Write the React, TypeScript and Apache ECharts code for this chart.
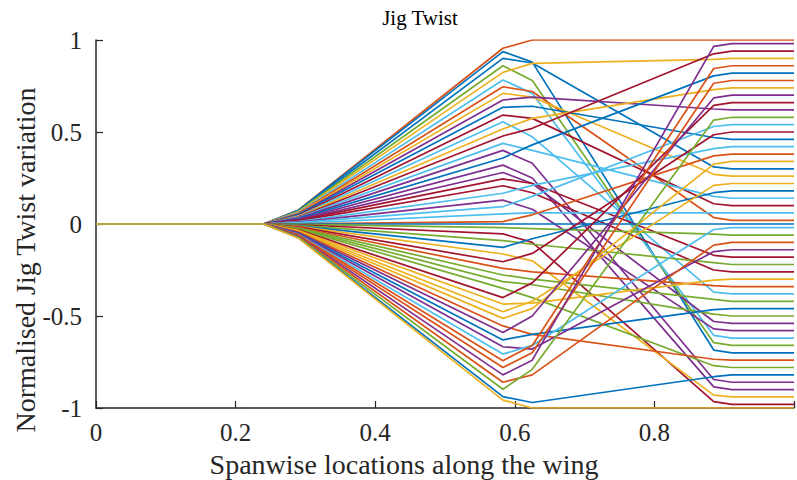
import React, { useEffect, useRef } from "react";
import * as echarts from "echarts";

// Spanwise stations (fraction of span) where the twist variation is defined
const stations = [0, 0.24, 0.29, 0.583, 0.625, 0.885, 0.911, 1.0];

// MATLAB default line colour order
const palette = ["#0072BD", "#D95319", "#EDB120", "#7E2F8E", "#77AC30", "#4DBEEE", "#A2142F"];

// Colour index of each sample
const lineColour = [
  1, 0, 0, 4, 2, 5, 1, 2, 3, 0, 6, 5, 2, 6, 5, 3, 0, 3, 3, 6, 6, 5, 3, 5, 5, 1, 0,
  4, 6, 4, 0, 2, 6, 1, 4, 4, 4, 6, 2, 2, 2, 1, 3, 0, 3, 5, 1, 1, 3, 1, 4, 0, 2,
];

// Twist variation at the inboard kink (0.29)
const inboardKink = [
  0.076, 0.075, 0.072, 0.069, 0.066, 0.063, 0.06, 0.057, 0.054, 0.051, 0.047, 0.044, 0.041, 0.038,
  0.035, 0.032, 0.029, 0.026, 0.022, 0.02, 0.017, 0.013, 0.01, 0.008, 0.004, 0.001, 0, -0.002,
  -0.004, -0.007, -0.01, -0.013, -0.016, -0.019, -0.022, -0.025, -0.028, -0.032, -0.035, -0.038,
  -0.041, -0.044, -0.047, -0.05, -0.053, -0.057, -0.059, -0.062, -0.066, -0.069, -0.072, -0.075,
  -0.077,
];

// Twist variation at the mid-span station (0.583)
const midSpan = [
  0.955, 0.937, 0.9, 0.86, 0.824, 0.783, 0.746, 0.71, 0.674, 0.634, 0.592, 0.556, 0.516, 0.478,
  0.438, 0.4, 0.359, 0.32, 0.28, 0.245, 0.208, 0.167, 0.13, 0.094, 0.055, 0.013, 0, -0.02, -0.054,
  -0.09, -0.127, -0.163, -0.205, -0.241, -0.277, -0.313, -0.35, -0.4, -0.435, -0.477, -0.513,
  -0.554, -0.59, -0.63, -0.667, -0.707, -0.743, -0.78, -0.82, -0.86, -0.898, -0.938, -0.957,
];

// Twist variation just outboard of mid-span (0.625)
const midSpanOuter = [
  1.0, 0.88, 0.875, 0.78, 0.873, 0.71, 0.72, 0.69, 0.69, 0.64, 0.574, 0.474, 0.574, 0.52, 0.4,
  0.33, 0.43, 0.25, 0.22, 0.22, 0.17, 0.21, 0.08, 0.15, 0.06, 0.05, 0, -0.025, -0.1, -0.11, -0.08,
  -0.2, -0.16, -0.26, -0.3, -0.33, -0.4, -0.32, -0.43, -0.42, -0.46, -0.6, -0.5, -0.6, -0.68,
  -0.66, -0.66, -0.7, -0.74, -0.82, -0.79, -0.97, -1.0,
];

// Twist variation at the outboard kink (0.885)
const outboardKink = [
  1.0, -0.685, 0.31, -0.645, 0.895, -0.605, 0.035, 0.27, 0.625, 0.47, 0.11, -0.37, 0.73, 0.925,
  0.15, -0.845, 0.805, -0.885, -0.53, -0.17, -0.25, 0.41, -0.57, 0.53, 0.06, 0.37, 0, -0.055,
  -0.965, -0.21, 0.17, -0.93, 0.485, -0.335, -0.41, -0.49, -0.77, 0.645, -0.305, 0.21, 0.325,
  -0.735, 0.685, -0.465, -0.15, -0.03, 0.845, 0.765, 0.965, -0.115, 0.565, -0.83, -1.0,
];

// Twist variation from 0.911 to the tip
const tipValue = [
  1.0, -0.7, 0.3, -0.66, 0.9, -0.62, 0.02, 0.26, 0.62, 0.46, 0.1, -0.38, 0.74, 0.94, 0.14, -0.86,
  0.82, -0.9, -0.54, -0.18, -0.26, 0.42, -0.58, 0.54, 0.06, 0.38, 0, -0.06, -0.98, -0.22, 0.18,
  -0.94, 0.5, -0.34, -0.42, -0.5, -0.78, 0.66, -0.3, 0.22, 0.34, -0.74, 0.7, -0.46, -0.14, -0.02,
  0.86, 0.78, 0.98, -0.1, 0.58, -0.82, -1.0,
];

const xTicks = [0, 0.2, 0.4, 0.6, 0.8];

const FONT = "'Liberation Serif', 'Times New Roman', serif";
const INK = "#262626";

export default function App() {
  const ref = useRef<HTMLDivElement | null>(null);

  useEffect(() => {
    document.body.style.margin = "0";
    if (!ref.current) return;
    const chart = echarts.init(ref.current, undefined, { renderer: "svg" });

    const series = lineColour.map((c, i) => {
      const vals = [
        0,
        0,
        inboardKink[i],
        midSpan[i],
        midSpanOuter[i],
        outboardKink[i],
        tipValue[i],
        tipValue[i],
      ];
      return {
        type: "line",
        data: stations.map((x, k) => [x, vals[k]]),
        showSymbol: false,
        symbol: "none",
        silent: true,
        lineStyle: { color: palette[c], width: 1.7 },
        itemStyle: { color: palette[c] },
      };
    });

    chart.setOption({
      animation: false,
      backgroundColor: "#ffffff",
      grid: { left: 96, top: 40, width: 707, height: 368, containLabel: false },
      xAxis: {
        type: "value",
        min: 0,
        max: 1,
        interval: 0.2,
        axisLine: { show: true, onZero: false, lineStyle: { color: INK, width: 1.5 } },
        axisTick: { show: true, inside: true, length: 7, lineStyle: { color: INK, width: 1.2 } },
        splitLine: { show: false },
        axisLabel: {
          fontFamily: FONT,
          fontSize: 25,
          color: INK,
          margin: 12,
          formatter: (v: number) =>
            xTicks.some((t) => Math.abs(t - v) < 1e-9) ? String(Math.round(v * 10) / 10) : "",
        },
      },
      yAxis: {
        type: "value",
        min: -1,
        max: 1,
        interval: 0.5,
        axisLine: { show: true, onZero: false, lineStyle: { color: INK, width: 1.5 } },
        axisTick: { show: true, inside: true, length: 7, lineStyle: { color: INK, width: 1.2 } },
        splitLine: { show: false },
        axisLabel: {
          fontFamily: FONT,
          fontSize: 25,
          color: INK,
          margin: 14,
          formatter: (v: number) => String(v),
        },
      },
      graphic: [
        {
          type: "text",
          x: 420,
          y: 18,
          style: {
            text: "Jig Twist",
            font: `21px ${FONT}`,
            fill: "#000000",
            textAlign: "center",
            textVerticalAlign: "middle",
          },
        },
        {
          type: "text",
          x: 404,
          y: 464,
          style: {
            text: "Spanwise locations along the wing",
            font: `28px ${FONT}`,
            fill: INK,
            textAlign: "center",
            textVerticalAlign: "middle",
          },
        },
        {
          type: "text",
          x: 25,
          y: 260,
          rotation: Math.PI / 2,
          style: {
            text: "Normalised Jig Twist variation",
            font: `28px ${FONT}`,
            fill: INK,
            textAlign: "center",
            textVerticalAlign: "middle",
          },
        },
      ],
      series,
    });

    return () => chart.dispose();
  }, []);

  return <div ref={ref} style={{ width: 797, height: 480 }} />;
}
